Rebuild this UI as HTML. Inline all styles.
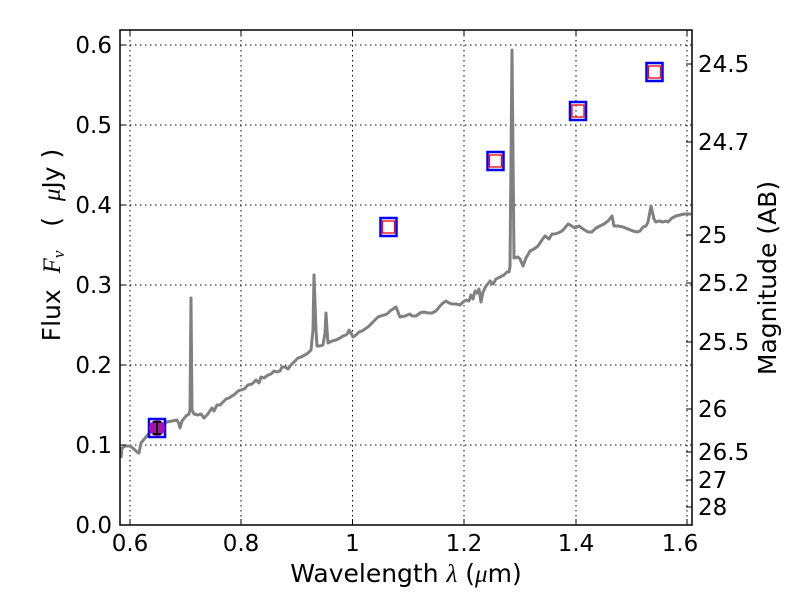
<!DOCTYPE html>
<html><head><meta charset="utf-8"><style>
html,body{margin:0;padding:0;background:#fff;}
svg text{font-family:"DejaVu Sans","Liberation Sans",sans-serif;font-size:23px;fill:#000;}
svg text.lab{font-size:25px;}
</style></head><body>
<svg width="800" height="600" viewBox="0 0 800 600" xmlns="http://www.w3.org/2000/svg">
<rect width="800" height="600" fill="#fff"/>
<g stroke="#000" stroke-width="1" stroke-dasharray="1.5,3.5">
<line x1="130" y1="30" x2="130" y2="525"/><line x1="241" y1="30" x2="241" y2="525"/><line x1="352.5" y1="30" x2="352.5" y2="525"/><line x1="464" y1="30" x2="464" y2="525"/><line x1="576" y1="30" x2="576" y2="525"/><line x1="687" y1="30" x2="687" y2="525"/>
<line x1="120" y1="445" x2="692" y2="445"/><line x1="120" y1="365" x2="692" y2="365"/><line x1="120" y1="285" x2="692" y2="285"/><line x1="120" y1="205" x2="692" y2="205"/><line x1="120" y1="125" x2="692" y2="125"/><line x1="120" y1="45" x2="692" y2="45"/>
</g>
<polyline fill="none" stroke="#808080" stroke-width="3" stroke-linejoin="round" points="121,458 122,448 125,446 130,446 134,449 137,452 139,453 141,443 146,437 150,432 154,428 158,426 162,424 167,422 172,421 177,420 179,424 180,428 182,421 186,416 189,414 190,410 191,298 192,410 194,414 198,415 201,414 204,418 207,415 210,411 212,408 214,411 217,405 220,405 223,402 226,399 229,398 232,396 235,394 238,391 241,390 244,389 248,385 252,384 256,380 259,383 261,377 264,378 268,375 271,374 274,371 277,372 280,371 282,367 285,367 288,369 290,366 292,364 295,361 298,358 301,357 305,355 308,353 311,350 313,330 314,275 316,330 317,346 320,346 323,345 325,333 326,313 327,330 328,343 332,341 336,340 340,338 343,336 346,335 348,333 349,330 351,333 353,337 356,335 359,332 362,331 365,329 368,327 372,323 375,320 378,317 381,316 384,315 387,314 390,311 393,309 396,307 400,317 405,316 410,314 412,316 416,316 420,313 424,312 428,313 432,313 436,311 440,306 443,303 446,301 449,303 452,304 456,304 460,305 463,302 466,300 469,301 471,295 473,299 475,291 477,293 479,289 481,302 483,292 486,286 490,281 493,284 496,279 500,277 504,275 507,272 509,272 510,267 512,50 514,258 518,257 520,259 523,266 526,258 530,251 534,249 538,246 542,240 545,236 549,239 552,234 555,234 558,233 562,231 564,229 568,224 570,225 575,228 579,226 583,229 588,232 592,232 596,228 600,226 604,224 608,221 612,216 614,226 618,226 623,227 628,229 633,231 637,232 640,231 643,227 646,226 648,222 651,206 654,219 656,222 659,221 663,222 666,221 668,222 672,218 676,216 680,215 684,214 691,214"/>
<g fill="none">
<rect x="149" y="419" width="16" height="18" stroke="#0000ff" stroke-width="2.5"/>
<circle cx="157" cy="428" r="8" fill="#aa10aa" stroke="none"/>
<path d="M157,422 V434 M153,422 H161 M153,434 H161" stroke="#000" stroke-width="2"/>
<rect x="380.5" y="218" width="16" height="18" stroke="#0000ff" stroke-width="2.5"/><rect x="382.5" y="221" width="12" height="12" stroke="#ff0000" stroke-width="1.3"/>
<rect x="487.5" y="152" width="16" height="18" stroke="#0000ff" stroke-width="2.5"/><rect x="489.5" y="155" width="12" height="12" stroke="#ff0000" stroke-width="1.3"/>
<rect x="570" y="102" width="16" height="18" stroke="#0000ff" stroke-width="2.5"/><rect x="572" y="105" width="12" height="12" stroke="#ff0000" stroke-width="1.3"/>
<rect x="646.5" y="63" width="16" height="18" stroke="#0000ff" stroke-width="2.5"/><rect x="648.5" y="66" width="12" height="12" stroke="#ff0000" stroke-width="1.3"/>
</g>
<rect x="120" y="30" width="572" height="495" fill="none" stroke="#000" stroke-width="1.5"/>
<g stroke="#000" stroke-width="1">
<path d="M130,525v-6M241,525v-6M352.5,525v-6M464,525v-6M576,525v-6M687,525v-6M130,30v6M241,30v6M352.5,30v6M464,30v6M576,30v6M687,30v6"/>
<path d="M120,525h6M120,445h6M120,365h6M120,285h6M120,205h6M120,125h6M120,45h6"/>
<path d="M692,64h-6M692,142h-6M692,235h-6M692,283h-6M692,342h-6M692,409h-6M692,452h-6M692,480h-6M692,507h-6"/>
</g>
<g text-anchor="end">
<text x="112" y="533">0.0</text><text x="112" y="453">0.1</text><text x="112" y="373">0.2</text><text x="112" y="293">0.3</text><text x="112" y="213">0.4</text><text x="112" y="133">0.5</text><text x="112" y="53">0.6</text>
</g>
<g text-anchor="middle">
<text x="130" y="551">0.6</text><text x="241" y="551">0.8</text><text x="352.5" y="551">1</text><text x="464" y="551">1.2</text><text x="576" y="551">1.4</text><text x="680" y="551">1.6</text>
</g>
<g>
<text x="698" y="72">24.5</text><text x="698" y="150">24.7</text><text x="698" y="243">25</text><text x="698" y="291">25.2</text><text x="698" y="350">25.5</text><text x="698" y="417">26</text><text x="698" y="460">26.5</text><text x="698" y="488">27</text><text x="698" y="515">28</text>
</g>
<text class="lab" x="406" y="582" text-anchor="middle">Wavelength  <tspan font-family="Liberation Serif" font-style="italic">λ</tspan> (<tspan font-family="Liberation Serif" font-style="italic">μ</tspan>m)</text>
<text class="lab" transform="translate(60,245) rotate(-90)" text-anchor="middle" xml:space="preserve">Flux  <tspan font-family="Liberation Serif" font-style="italic">F</tspan><tspan font-family="Liberation Serif" font-style="italic" font-size="17" dy="4">ν</tspan><tspan dy="-4">   (  </tspan><tspan font-family="Liberation Serif" font-style="italic">μ</tspan>Jy )</text>
<text class="lab" transform="translate(776,278) rotate(-90)" text-anchor="middle">Magnitude (AB)</text>
</svg>
</body></html>
